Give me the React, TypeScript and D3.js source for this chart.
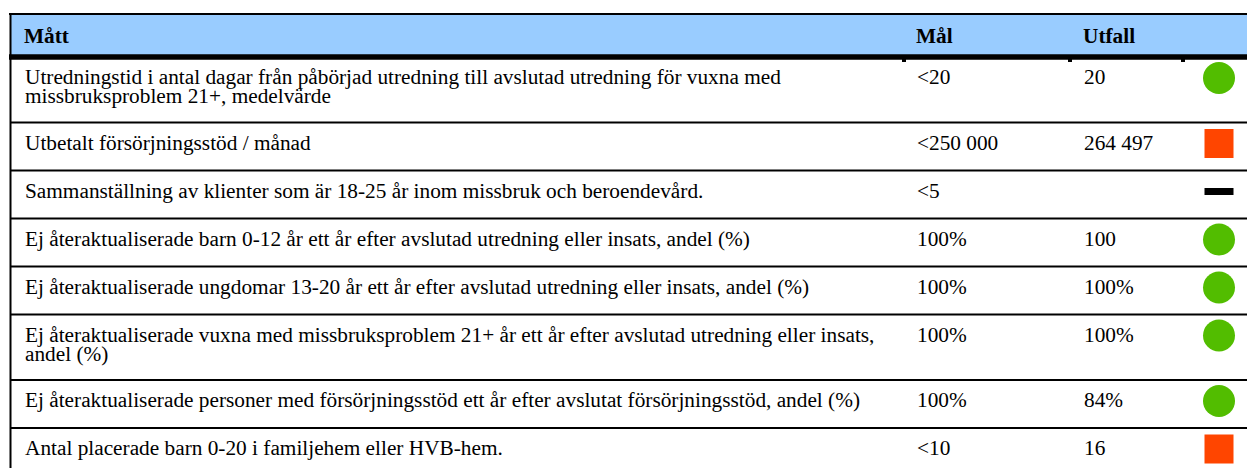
import React, { useEffect, useRef } from 'react';
import * as d3 from 'd3';

// table content
const headers = ['Mått', 'Mål', 'Utfall'];
const measures = [
  ['Utredningstid i antal dagar från påbörjad utredning till avslutad utredning för vuxna med', 'missbruksproblem 21+, medelvärde'],
  ['Utbetalt försörjningsstöd / månad'],
  ['Sammanställning av klienter som är 18-25 år inom missbruk och beroendevård.'],
  ['Ej återaktualiserade barn 0-12 år ett år efter avslutad utredning eller insats, andel (%)'],
  ['Ej återaktualiserade ungdomar 13-20 år ett år efter avslutad utredning eller insats, andel (%)'],
  ['Ej återaktualiserade vuxna med missbruksproblem 21+ år ett år efter avslutad utredning eller insats,', 'andel (%)'],
  ['Ej återaktualiserade personer med försörjningsstöd ett år efter avslutat försörjningsstöd, andel (%)'],
  ['Antal placerade barn 0-20 i familjehem eller HVB-hem.'],
];
const targets = ['<20', '<250 000', '<5', '100%', '100%', '100%', '100%', '<10'];
const outcomes = ['20', '264 497', '', '100', '100%', '100%', '84%', '16'];
const statuses = ['ok', 'bad', 'none', 'ok', 'ok', 'ok', 'ok', 'bad'];

const App = () => {
  const ref = useRef<SVGSVGElement>(null);

  useEffect(() => {
    const svg = d3.select(ref.current);
    svg.selectAll('*').remove();

    const width = 1247;
    const left = 10;
    const top = 14;
    const headerBottom = 57;
    const font = '"Liberation Serif", "Times New Roman", serif';
    const fontSize = 21.3;

    // row heights from the number of text lines
    const heights = measures.map(m => (m.length > 1 ? 65.5 : 48));
    const rowTops = d3.cumsum([headerBottom, ...heights]);

    const colX = [25, 917, 1084];
    const iconX = 1219;

    const color = d3.scaleOrdinal<string, string>()
      .domain(['ok', 'bad', 'none'])
      .range(['#52bd00', '#ff4500', '#000000']);

    // header
    svg.append('rect')
      .attr('x', left).attr('y', top)
      .attr('width', width - left).attr('height', headerBottom - top)
      .attr('fill', '#99ccff');
    svg.append('line')
      .attr('x1', left - 1).attr('x2', width)
      .attr('y1', top).attr('y2', top)
      .attr('stroke', '#000').attr('stroke-width', 2);
    svg.append('line')
      .attr('x1', left - 1).attr('x2', width)
      .attr('y1', headerBottom).attr('y2', headerBottom)
      .attr('stroke', '#000').attr('stroke-width', 5.5);
    svg.selectAll('text.head')
      .data(headers)
      .join('text')
      .attr('class', 'head')
      .attr('x', (_, i) => colX[i] - 1)
      .attr('y', 42.5)
      .attr('font-family', font)
      .attr('font-size', fontSize)
      .attr('font-weight', 'bold')
      .attr('fill', '#000')
      .text(d => d);

    // small ticks at the column edges under the header
    svg.selectAll('rect.tick')
      .data([904, 1070, 1183])
      .join('rect')
      .attr('class', 'tick')
      .attr('x', d => d - 2).attr('y', headerBottom + 2)
      .attr('width', 4).attr('height', 3)
      .attr('fill', '#000');

    // left border
    svg.append('line')
      .attr('x1', left + 0.5).attr('x2', left + 0.5)
      .attr('y1', top - 1).attr('y2', 468)
      .attr('stroke', '#000').attr('stroke-width', 2);

    // row separators
    svg.selectAll('line.sep')
      .data(rowTops.slice(1))
      .join('line')
      .attr('class', 'sep')
      .attr('x1', left).attr('x2', width)
      .attr('y1', d => d).attr('y2', d => d)
      .attr('stroke', '#000').attr('stroke-width', 2);

    const rows = svg.selectAll('g.row')
      .data(measures)
      .join('g')
      .attr('class', 'row')
      .attr('transform', (_, i) => `translate(0,${rowTops[i]})`);

    rows.each(function (lines, i) {
      const g = d3.select(this);
      const base = 27;
      const t = g.append('text')
        .attr('font-family', font).attr('font-size', fontSize)
        .attr('fill', '#000');
      lines.forEach((ln, j) => {
        t.append('tspan')
          .attr('x', colX[0]).attr('y', base + j * 19)
          .text(ln);
      });
      g.append('text')
        .attr('x', colX[1]).attr('y', base)
        .attr('font-family', font).attr('font-size', fontSize)
        .attr('fill', '#000')
        .text(targets[i]);
      g.append('text')
        .attr('x', colX[2]).attr('y', base)
        .attr('font-family', font).attr('font-size', fontSize)
        .attr('fill', '#000')
        .text(outcomes[i]);

      const s = statuses[i];
      const cy = 21;
      if (s === 'ok') {
        g.append('circle')
          .attr('cx', iconX).attr('cy', cy).attr('r', 16)
          .attr('fill', color(s));
      } else if (s === 'bad') {
        g.append('rect')
          .attr('x', iconX - 14.5).attr('y', cy - 14.5)
          .attr('width', 29).attr('height', 29)
          .attr('fill', color(s));
      } else {
        g.append('rect')
          .attr('x', iconX - 14.5).attr('y', cy - 3.5)
          .attr('width', 29).attr('height', 7)
          .attr('fill', color(s));
      }
    });
  }, []);

  return (
    <svg
      ref={ref}
      width={1247}
      height={468}
      style={{ position: 'absolute', left: 0, top: 0, background: '#fff' }}
    ></svg>
  );
};

export default App;
